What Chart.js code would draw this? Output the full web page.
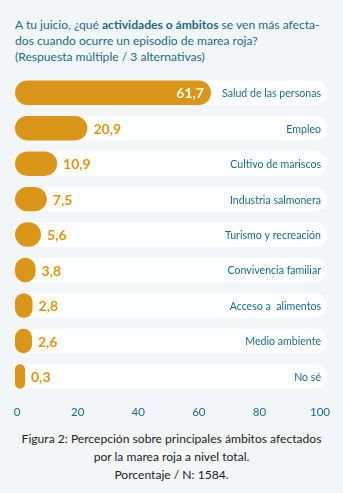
<!DOCTYPE html>
<html lang="es">
<head>
<meta charset="utf-8">
<script src="https://cdn.jsdelivr.net/npm/chart.js@4"></script>
<style>
  html, body { margin: 0; padding: 0; }
  body {
    width: 343px; height: 493px; overflow: hidden;
    background: #f2f6f9; position: relative;
    font-family: Lato, "Noto Sans", sans-serif;
  }
  .title {
    position: absolute; left: 15px; top: 17px; width: 328px;
    color: #1b6b8a; font-size: 12.1px; line-height: 16px; white-space: nowrap;
  }
  .title b { font-weight: 700; }
  .chart-box { position: absolute; left: 0; top: 70px; width: 343px; height: 354px; }
  .caption {
    position: absolute; left: 0; top: 430px; width: 343px;
    text-align: center; color: #222; font-size: 12.1px; line-height: 18px; white-space: nowrap;
  }
</style>
</head>
<body>
<div class="title">A tu juicio, ¿qué <b>actividades o ámbitos</b> se ven más afecta-<br>dos cuando ocurre un episodio de marea roja?<br>(Respuesta múltiple / 3 alternativas)</div>
<div class="chart-box"><canvas id="ambitos"></canvas></div>
<div class="caption">Figura 2: Percepción sobre principales ámbitos afectados<br>por la marea roja a nivel total.<br>Porcentaje / N: 1584.</div>
<script>
const categories = ['Salud de las personas', 'Empleo', 'Cultivo de mariscos', 'Industria salmonera',
  'Turismo y recreación', 'Convivencia familiar', 'Acceso a  alimentos', 'Medio ambiente', 'No sé'];
const percentages = [61.7, 20.9, 10.9, 7.5, 5.6, 3.8, 2.8, 2.6, 0.3];
const trackValues = [100, 100, 100, 100, 100, 100, 100, 100, 100];
const tickValues = [0, 20, 40, 60, 80, 100];

const ORANGE = '#da9618';
const TEAL = '#1b6b8a';

const fmt = v => v.toFixed(1).replace('.', ',');

// value numbers next to each bar, category names inside the white track
const barLabels = {
  id: 'barLabels',
  afterDatasetsDraw(chart) {
    const ctx = chart.ctx;
    const bars = chart.getDatasetMeta(0).data;
    const track = chart.getDatasetMeta(1).data;
    ctx.save();
    ctx.textBaseline = 'middle';
    bars.forEach((bar, i) => {
      const v = percentages[i];
      ctx.font = 'bold 14px Lato, "Noto Sans", sans-serif';
      if (bar.x - bar.base > 120) {
        ctx.fillStyle = '#ffffff';
        ctx.textAlign = 'right';
        ctx.fillText(fmt(v), bar.x - 7, bar.y + 1);
      } else {
        ctx.fillStyle = ORANGE;
        ctx.textAlign = 'left';
        ctx.fillText(fmt(v), bar.x + 6, bar.y + 1);
      }
      ctx.font = '10.6px Lato, "Noto Sans", sans-serif';
      ctx.fillStyle = TEAL;
      ctx.textAlign = 'right';
      ctx.fillText(categories[i], track[i].x - 6, track[i].y + 1);
    });
    ctx.restore();
  }
};

new Chart(document.getElementById('ambitos'), {
  type: 'bar',
  data: {
    labels: categories,
    datasets: [{
      data: percentages,
      backgroundColor: ORANGE,
      base: -3,
      order: 0
    }, {
      data: trackValues,
      backgroundColor: '#ffffff',
      base: -3,
      order: 1
    }]
  },
  options: {
    indexAxis: 'y',
    responsive: true,
    maintainAspectRatio: false,
    animation: false,
    layout: { padding: { left: 15, right: 16, top: 5, bottom: 2 } },
    datasets: {
      bar: {
        grouped: false,
        barPercentage: 1,
        categoryPercentage: 0.69,
        borderRadius: 20,
        borderSkipped: false
      }
    },
    plugins: { legend: { display: false }, tooltip: { enabled: false } },
    scales: {
      x: {
        min: -3,
        max: 100,
        afterBuildTicks: scale => { scale.ticks = tickValues.map(v => ({ value: v })); },
        grid: { display: false },
        border: { display: false },
        ticks: {
          color: TEAL,
          padding: 3,
          labelOffset: -7,
          font: { family: 'Lato, "Noto Sans", sans-serif', size: 11.5 }
        }
      },
      y: { display: false }
    }
  },
  plugins: [barLabels]
});
</script>
</body>
</html>
